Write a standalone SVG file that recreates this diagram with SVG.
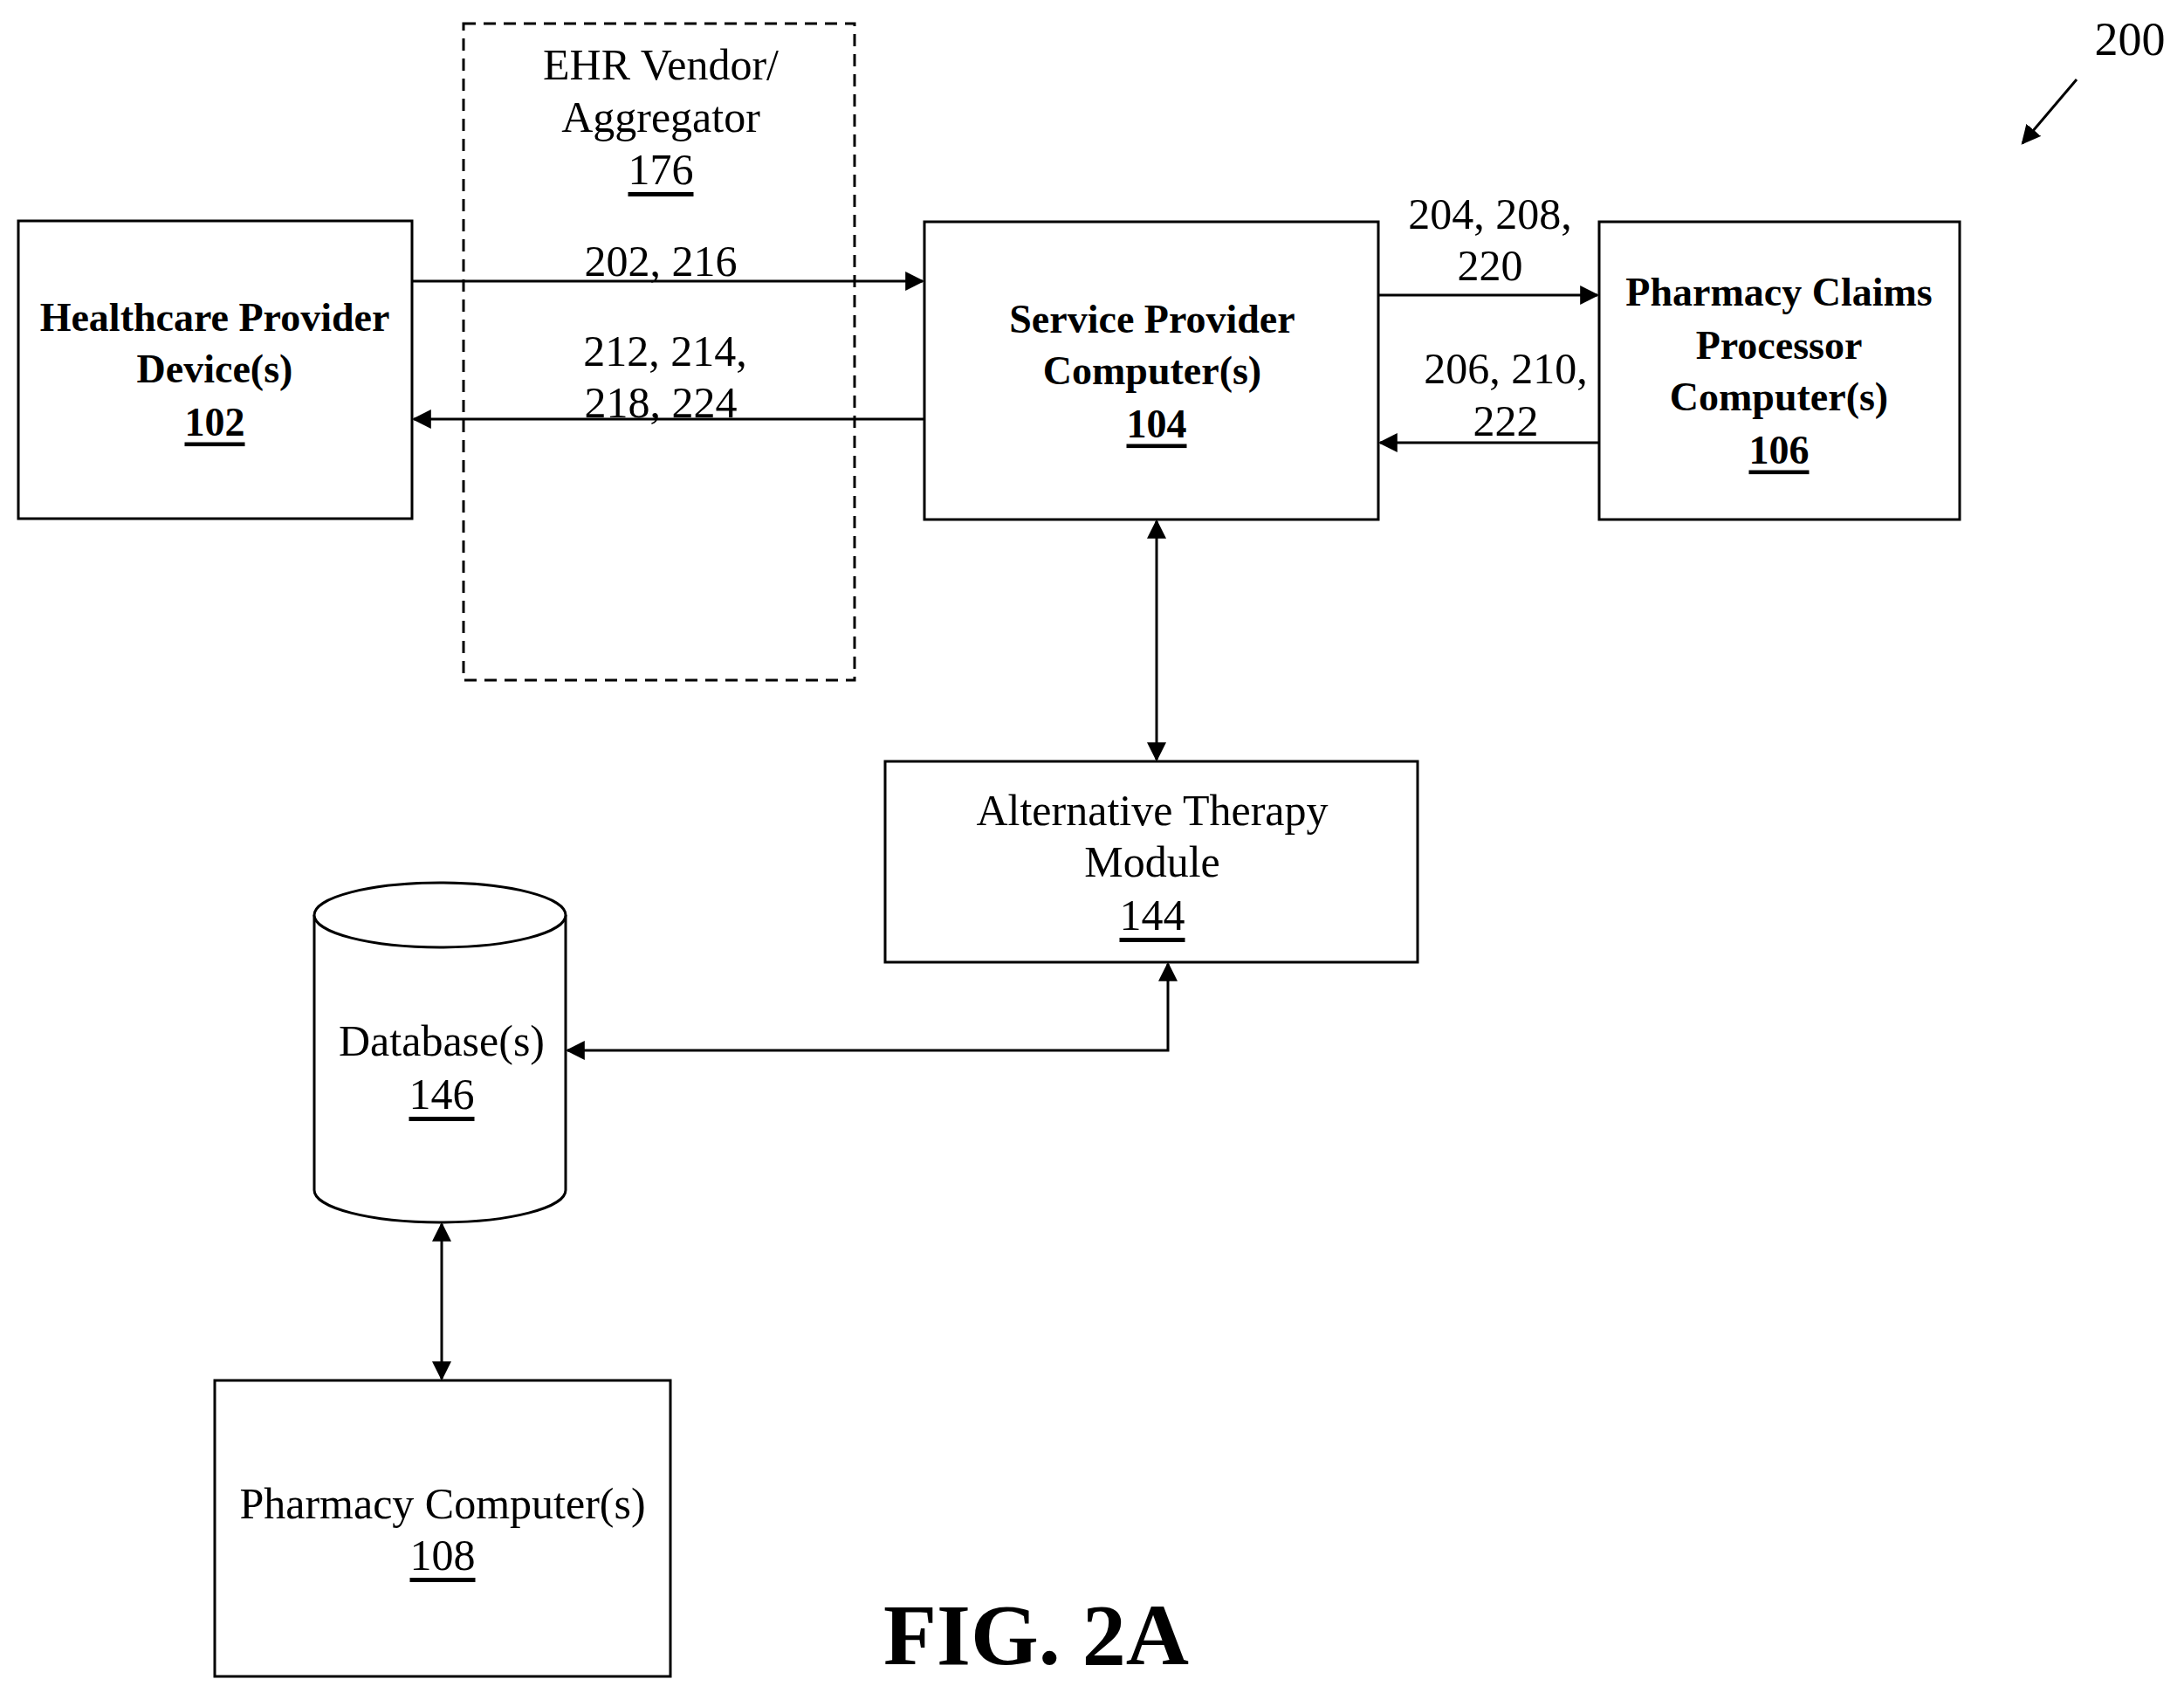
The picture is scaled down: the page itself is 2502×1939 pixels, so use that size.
<svg xmlns="http://www.w3.org/2000/svg" width="2502" height="1939" viewBox="0 0 2502 1939">
<style>
.b{fill:#fff;stroke:#000;stroke-width:3}
text{font-family:"Liberation Serif",serif;font-size:50px;text-anchor:middle;dominant-baseline:central;fill:#000}
.bd{font-weight:bold;font-size:46px}
.c{stroke:#000;stroke-width:3;fill:none}
</style>
<defs>
<marker id="m" viewBox="0 0 10 10" refX="9" refY="5" markerWidth="22" markerHeight="22" markerUnits="userSpaceOnUse" orient="auto-start-reverse"><path d="M0,0L10,5L0,10z" fill="#000"/></marker></defs>
<rect width="2502" height="1939" fill="#fff"/>
<g id="ehr"><rect x="531" y="27" width="448" height="752" fill="none" stroke="#000" stroke-width="3" stroke-dasharray="14,9"/>
<text x="757" y="74">EHR Vendor/</text><text x="757" y="134">Aggregator</text><text x="757" y="194" text-decoration="underline">176</text></g>
<g id="n102"><rect class="b" x="21" y="253" width="451" height="341"/>
<text class="bd" x="246" y="363">Healthcare Provider</text><text class="bd" x="246" y="422">Device(s)</text><text class="bd" x="246" y="483" text-decoration="underline">102</text></g>
<g id="n104"><rect class="b" x="1059" y="254" width="520" height="341"/>
<text class="bd" x="1320" y="365">Service Provider</text><text class="bd" x="1320" y="424">Computer(s)</text><text class="bd" x="1325" y="485" text-decoration="underline">104</text></g>
<g id="n106"><rect class="b" x="1832" y="254" width="413" height="341"/>
<text class="bd" x="2038" y="334">Pharmacy Claims</text><text class="bd" x="2038" y="395">Processor</text><text class="bd" x="2038" y="454">Computer(s)</text><text class="bd" x="2038" y="515" text-decoration="underline">106</text></g>
<g id="n144"><rect class="b" x="1014" y="872" width="610" height="230"/>
<text x="1320" y="928">Alternative Therapy</text><text x="1320" y="987">Module</text><text x="1320" y="1048" text-decoration="underline">144</text></g>
<g id="n146"><path class="b" d="M360,1048 V1363 A144,37 0 0 0 648,1363 V1048"/><ellipse class="b" cx="504" cy="1048" rx="144" ry="37"/>
<text x="506" y="1192">Database(s)</text><text x="506" y="1253" text-decoration="underline">146</text></g>
<g id="n108"><rect class="b" x="246" y="1581" width="522" height="339"/>
<text x="507" y="1722">Pharmacy Computer(s)</text><text x="507" y="1781" text-decoration="underline">108</text></g>
<g id="connectors">
<line class="c" x1="472" y1="322" x2="1057" y2="322" marker-end="url(#m)"/>
<line class="c" x1="1059" y1="480" x2="474" y2="480" marker-end="url(#m)"/>
<line class="c" x1="1579" y1="338" x2="1830" y2="338" marker-end="url(#m)"/>
<line class="c" x1="1832" y1="507" x2="1581" y2="507" marker-end="url(#m)"/>
<line class="c" x1="1325" y1="597" x2="1325" y2="870" marker-start="url(#m)" marker-end="url(#m)"/>
<path class="c" d="M650,1203 H1338 V1104" marker-start="url(#m)" marker-end="url(#m)"/>
<line class="c" x1="506" y1="1402" x2="506" y2="1579" marker-start="url(#m)" marker-end="url(#m)"/>
<line class="c" x1="2379" y1="91" x2="2317" y2="164" marker-end="url(#m)"/>
</g>
<g id="labels">
<text x="757" y="299">202, 216</text>
<text x="762" y="402">212, 214,</text><text x="757" y="461">218, 224</text>
<text x="1707" y="245">204, 208,</text><text x="1707" y="304">220</text>
<text x="1725" y="422">206, 210,</text><text x="1725" y="482">222</text>
<text x="2440" y="45" style="font-size:54px">200</text>
<text class="bd" x="1187" y="1872" style="font-size:100px">FIG. 2A</text>
</g>
</svg>
